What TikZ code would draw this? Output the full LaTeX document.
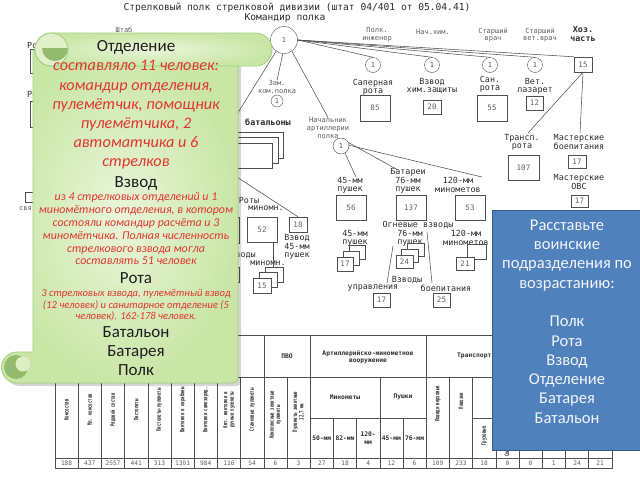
\documentclass[tikz,border=0pt]{standalone}
\usepackage{fontspec}
\setmainfont{Carlito}
\newfontfamily\monof{DejaVu Sans Mono}
\newfontfamily\condf[FakeStretch=0.66]{DejaVu Sans Mono}
\usetikzlibrary{calc}
\definecolor{chtext}{RGB}{45,45,45}
\definecolor{chgray}{RGB}{95,95,95}
\definecolor{chline}{RGB}{80,80,80}
\definecolor{scrollin}{RGB}{234,246,218}
\definecolor{scrollout}{RGB}{201,230,166}
\definecolor{scrollbd}{RGB}{160,205,125}
\definecolor{scrolldark}{RGB}{148,186,110}
\definecolor{redtxt}{RGB}{226,52,48}
\definecolor{blktxt}{RGB}{30,30,30}
\definecolor{bluefill}{RGB}{79,129,189}
\definecolor{bluebd}{RGB}{56,93,138}
\definecolor{bluetxt}{RGB}{242,245,250}
\begin{document}
\begin{tikzpicture}[x=1pt,y=-1pt,
  ttl/.style={font=\monof\fontsize{9.6}{10}\selectfont, text=chtext, inner sep=0},
  sm/.style={font=\monof\fontsize{7}{7.8}\selectfont, text=chgray, inner sep=0, align=center},
  md/.style={font=\monof\fontsize{8.4}{8.2}\selectfont, text=chtext, inner sep=0, align=center},
  mdb/.style={font=\monof\bfseries\fontsize{8.4}{8.2}\selectfont, text=chtext, inner sep=0, align=center},
  circ/.style={draw=chline, circle, fill=white, inner sep=0, minimum size=#1, font=\monof\fontsize{7}{8}\selectfont, text=chgray},
  nbox/.style 2 args={draw=chline, fill=white, inner sep=0, minimum width=#1, minimum height=#2, font=\monof\fontsize{7.5}{8}\selectfont, text=chgray},
  ln/.style={draw=chline, line width=0.55pt},
  tl/.style={draw=chline, line width=0.45pt},
  thd/.style={font=\monof\bfseries\fontsize{6.3}{7.5}\selectfont, text=chtext, inner sep=0, align=center},
  tcol/.style={font=\condf\bfseries\fontsize{6}{6.4}\selectfont, text=chtext, inner sep=0, align=center, rotate=90},
  tnum/.style={font=\monof\fontsize{6.2}{7}\selectfont, text=chgray, inner sep=0},
  bigtxt/.style={font=\fontsize{17}{19.2}\selectfont, text=blktxt, inner sep=0, align=center},
  redbig/.style={font=\itshape\fontsize{16.2}{19.2}\selectfont, text=redtxt, inner sep=0, align=center},
  redmid/.style={font=\itshape\fontsize{11.9}{12.8}\selectfont, text=redtxt, inner sep=0, align=center},
  redsm/.style={font=\itshape\fontsize{10.6}{11.6}\selectfont, text=redtxt, inner sep=0, align=center},
  bluetext/.style={font=\fontsize{16.5}{19.3}\selectfont, text=bluetxt, inner sep=0, align=center}
]
\fill[white] (0,0) rectangle (640,480);
\useasboundingbox (0,0) rectangle (640,480);

% ---------- org chart ----------
\node[ttl] (title) at (297,8) {Стрелковый полк стрелковой дивизии (штат 04/401 от 05.04.41)};
\node[ttl] (kom) at (285,18) {Командир полка};

\node[md, anchor=west] (rota1) at (27,45) {Рота};
\node[nbox={50}{24}] (rb1) at (55,61) {};
\node[md, anchor=west] (rota2) at (27,94) {Рота};
\node[nbox={50}{26}] (rb2) at (55,114) {};
\node[nbox={20}{10}] (rb3) at (35,197) {};
\node[sm, anchor=west] (sv) at (19,209) {свя};
\node[sm] (shtab) at (124,30) {Штаб};

\node[circ=27] (c0) at (284,40) {1};
\node[sm] (lpi) at (377,35) {Полк.\\инженер};
\node[sm] (lnh) at (433,32) {Нач.хим.};
\node[sm] (lsv) at (493,35) {Старший\\врач};
\node[sm] (lsvv) at (540,35) {Старший\\вет.врач};
\node[mdb] (lhoz) at (583,34) {Хоз.\\часть};

\node[circ=15] (c1) at (373,65) {1};
\node[circ=15] (c2) at (432,65) {1};
\node[circ=15] (c3) at (490,65) {1};
\node[circ=15] (c4) at (535,65) {1};
\node[nbox={18}{15}] (b15) at (583,64.5) {15};

\node[md] (lsap) at (373,87) {Саперная\\рота};
\node[md] (lvh) at (432,86) {Взвод\\хим.защиты};
\node[md] (lsan) at (490,84) {Сан.\\рота};
\node[md] (lvet) at (535,86) {Вет.\\лазарет};
\node[nbox={30}{26}] (b85) at (375,108) {85};
\node[nbox={18}{14}] (b20) at (432,107) {20};
\node[nbox={30}{26}] (b55) at (492,108) {55};
\node[nbox={17}{14}] (b12) at (534.5,103) {12};

\draw[ln] (c0.east) -- (c1.north);
\draw[ln] (c0.east) -- (c2.north);
\draw[ln] (c0.east) -- (c3.north);
\draw[ln] (c0.east) -- (c4.north);
\draw[ln] (c0.east) -- (b15.north west);

\node[sm] (lzam) at (277,87) {Зам.\\ком.полка};
\node[circ=12] (cz) at (277,101) {1};
\draw[ln] (c0.265) -- (lzam.north);
\node[sm] (lnach) at (328,128) {Начальник\\артиллерии\\полка};
\draw[ln] (c0.-55) -- (lnach.north);
\coordinate (batc) at (226,132);
\draw[ln] (c0.235) -- (batc);

% transport / workshops
\node[md] (ltr) at (522,142) {Трансп.\\рота};
\node[nbox={31}{25}] (b107) at (523.5,167.5) {107};
\node[md] (lmb) at (579,142) {Мастерские\\боепитания};
\node[nbox={18}{13}] (b17a) at (577,161.5) {17};
\node[md] (lmo) at (579,182) {Мастерские\\ОВС};
\node[nbox={17}{12}] (b17b) at (579.5,201) {17};
\coordinate (trc) at (528,133);
\coordinate (msc) at (580,133);
\draw[ln] (b15.south) -- (trc);
\draw[ln] (b15.south) -- (msc);

% battalions
\node[mdb] (lbat) at (268,122) {батальоны};
\draw[tl, fill=white] (180,132) rectangle (283,158);
\draw[tl, fill=white] (175,137) rectangle (278,163);
\draw[tl, fill=white] (170,143) rectangle (272,168);

% mortars
\node[nbox={34}{26}] (bh1) at (222,230) {};
\node[md] (lrm1) at (249,200) {Роты};
\node[md] (lrm2) at (266,208) {миномн.};
\node[nbox={30}{25}] (b52) at (262,229.5) {52};
\node[nbox={18}{15}] (b18) at (298,224.5) {18};
\node[md] (lv45) at (297,247) {Взвод\\45-мм\\пушек};
\node[md, anchor=east] (lvz) at (256,255) {Взводы};
\node[md] (lmin) at (268,263) {миномн.};
\node[nbox={24}{15}] (bh2) at (227,274.5) {};
\node[nbox={18}{15}] (s15b) at (274,274.5) {};
\node[nbox={18}{15}] (s15m) at (268,280) {};
\node[nbox={18}{15}] (s15f) at (262,285.5) {15};
\coordinate (mstart) at (200,153);
\draw[ln] (mstart) -- (b18.north);
\draw[ln] ($(b52.south)+(11,0)$) -- ($(s15b.north)+(-1,0)$);

% artillery
\node[circ=16] (ca) at (341,146) {1};
\node[md] (la45) at (350,185) {45-мм\\пушек};
\node[md] (la76) at (408,181) {Батареи\\76-мм\\пушек};
\node[md] (la120) at (458,185) {120-мм\\минометов};
\coordinate (a45e) at (356,177);
\coordinate (a76e) at (398,170);
\coordinate (a120e) at (482,177);
\draw[ln] (ca.-60) -- (a45e);
\draw[ln] (ca.25) -- (a76e);
\draw[ln] (ca.5) -- (a120e);
\node[nbox={30}{25}] (b56) at (351,207.5) {56};
\node[nbox={30}{25}] (b137) at (411,207.5) {137};
\node[nbox={30}{25}] (b53) at (470,207.5) {53};
\node[md] (log) at (418,224.5) {Огневые взводы};
\node[md] (lo45) at (355,238) {45-мм\\пушек};
\node[md] (lo76) at (410,238) {76-мм\\пушек};
\node[md] (lo120) at (466,238) {120-мм\\минометов};
\node[nbox={16}{14}] (s17b) at (357,252) {};
\node[nbox={16}{14}] (s17m) at (351,258) {};
\node[nbox={16}{14}] (s17f) at (345,264) {17};
\node[nbox={17}{13}] (s24b) at (416,250) {};
\node[nbox={17}{13}] (s24m) at (410,255.5) {};
\node[nbox={17}{13}] (s24f) at (404.5,261.5) {24};
\node[nbox={19}{15}] (s21b) at (476.5,251.5) {};
\node[nbox={18}{13}] (s21f) at (465,263.5) {21};
\node[md] (lvz2) at (407,280) {Взводы};
\node[md] (lupr) at (373,288) {управления};
\node[md] (lbp) at (446,288) {боепитания};
\node[nbox={17}{14}] (b17c) at (381.5,300) {17};
\node[nbox={17}{14}] (b25) at (441.5,300) {25};
\coordinate (o1s) at (393,246);
\coordinate (o1e) at (387,283);
\coordinate (o2s) at (427,232);
\coordinate (o2e) at (432,283);
\draw[ln] (o1s) -- (o1e);
\draw[ln] (o2s) -- (o2e);

% ---------- table ----------
\draw[tl] (55,335) rectangle (611.8,468);
\draw[tl] (55,377) -- (611.8,377);
\draw[tl] (55,458) -- (611.8,458);
\draw[tl] (310.2,418) -- (426.2,418);
\draw[tl] (472.6,418) -- (611.8,418);
\foreach \i in {1,2,3,4,5,6,7,8,10,14,17,18} \draw[tl] ({55+23.2*\i},377) -- ({55+23.2*\i},468);
\foreach \i in {9,11,16} \draw[tl] ({55+23.2*\i},335) -- ({55+23.2*\i},468);
\foreach \i in {12,13,15,19,20,21,22,23} \draw[tl] ({55+23.2*\i},418) -- ({55+23.2*\i},468);

\node[thd] (hpvo) at (287,356) {ПВО};
\node[thd] (hart) at (368,357) {Артиллерийско-минометное\\вооружение};
\node[thd, anchor=west] (htr) at (457,356) {Транспорт};
\node[thd] (hmin) at (345,397) {Минометы};
\node[thd] (hpush) at (403,397) {Пушки};
\node[thd] (h50) at (321.8,438) {50-мм};
\node[thd] (h82) at (345,438) {82-мм};
\node[thd] (h120) at (368.2,438) {120-\\мм};
\node[thd] (h45) at (391.4,438) {45-мм};
\node[thd] (h76) at (414.6,438) {76-мм};

\node[tcol] (k1) at (66.6,410) {Комсостав};
\node[tcol] (k2) at (89.8,410) {Мл. комсостав};
\node[tcol] (k3) at (113,410) {Рядовой состав};
\node[tcol] (k4) at (136.2,410) {Пистолеты};
\node[tcol] (k5) at (159.4,410) {Пистолеты-пулеметы};
\node[tcol] (k6) at (182.6,410) {Винтовки и карабины};
\node[tcol] (k7) at (205.8,410) {Винтовки самозаряд.};
\node[tcol] (k8) at (229,410) {Авт. винтовки и\\ручные пулеметы};
\node[tcol] (k9) at (252.2,410) {Станковые пулеметы};
\node[tcol] (k10) at (275.4,415) {Комплексные зенитные\\пулеметы};
\node[tcol] (k11) at (298.6,412) {Пулеметы зенитные\\12,7 мм};
\node[tcol] (k17) at (437.8,404) {Лошади верховые};
\node[tcol] (k18) at (461,401) {Повозки};
\node[tcol] (k19) at (484.2,436) {Грузовые};
\node[tcol, anchor=west] (k20) at (507.4,457) {Специальные};

\foreach \v [count=\i] in {188,437,2557,441,313,1301,984,116,54,6,3,27,18,4,12,6,109,233,18,0,0,1,24,21}
  \node[tnum] (n\i) at ({55+23.2*(\i-0.5)},463) {\v};

% ---------- green scroll ----------
\fill[black, opacity=0.16]
  (36,53) -- (241,53) -- (241,376) .. controls (241,386) .. (231,386) -- (20,386)
  .. controls (11.4,386) and (4.5,379) .. (4.5,370.5)
  .. controls (4.5,362) and (11.4,355) .. (20,355) -- (36,355) -- cycle;
\shadedraw[inner color=scrollin, outer color=scrollout, draw=scrollbd, line width=0.8pt]
  (33,50) -- (238,50) -- (238,373) .. controls (238,383) .. (228,383) -- (17,383)
  .. controls (8.4,383) and (1.5,376) .. (1.5,367.5)
  .. controls (1.5,359) and (8.4,352) .. (17,352) -- (33,352) -- cycle;
\fill[scrolldark] (16,367) circle (12pt);
\fill[scrollin!55!scrollout] (23,364) circle (7.5pt);
\shadedraw[inner color=scrollin, outer color=scrollout, draw=scrollbd, line width=0.8pt, rounded corners=16.5pt] (35,33) rectangle (272,66);
\draw[scrollbd, line width=0.8pt, fill=scrollin!70!scrollout] (51.5,49.5) circle (16.5pt);
\fill[scrolldark] (42,48) .. controls (42,55.2) and (47.8,61) .. (55,61) .. controls (62.2,61) and (68,55.2) .. (68,48) -- cycle;

\node[bigtxt] (t1) at (136,47) {Отделение};
\node[redbig] (t2) at (136,115) {составляло 11 человек:\\командир отделения,\\пулемётчик, помощник\\пулемётчика, 2\\автоматчика и 6\\стрелков};
\node[bigtxt] (t3) at (136,183) {Взвод};
\node[redmid] (t4) at (136,229) {из 4 стрелковых отделений и 1\\миномётного отделения, в котором\\состояли командир расчёта и 3\\миномётчика. Полная численность\\стрелкового взвода могла\\составлять 51 человек};
\node[bigtxt] (t5) at (136,278) {Рота};
\node[redsm] (t6) at (136,305.5) {3 стрелковых взвода, пулемётный взвод\\(12 человек) и санитарное отделение (5\\человек). 162-178 человек.};
\node[bigtxt] (t7) at (136,351) {Батальон\\Батарея\\Полк};

% ---------- blue box ----------
\node[draw=bluebd, fill=bluefill, line width=1pt, minimum width=148, minimum height=240, inner sep=0] (bbox) at (566,330) {};
\node[bluetext] (btxt) at (567,321.5) {Расставьте\\воинские\\подразделения по\\возрастанию:\\\mbox{}\\Полк\\Рота\\Взвод\\Отделение\\Батарея\\Батальон};
\end{tikzpicture}
\end{document}
